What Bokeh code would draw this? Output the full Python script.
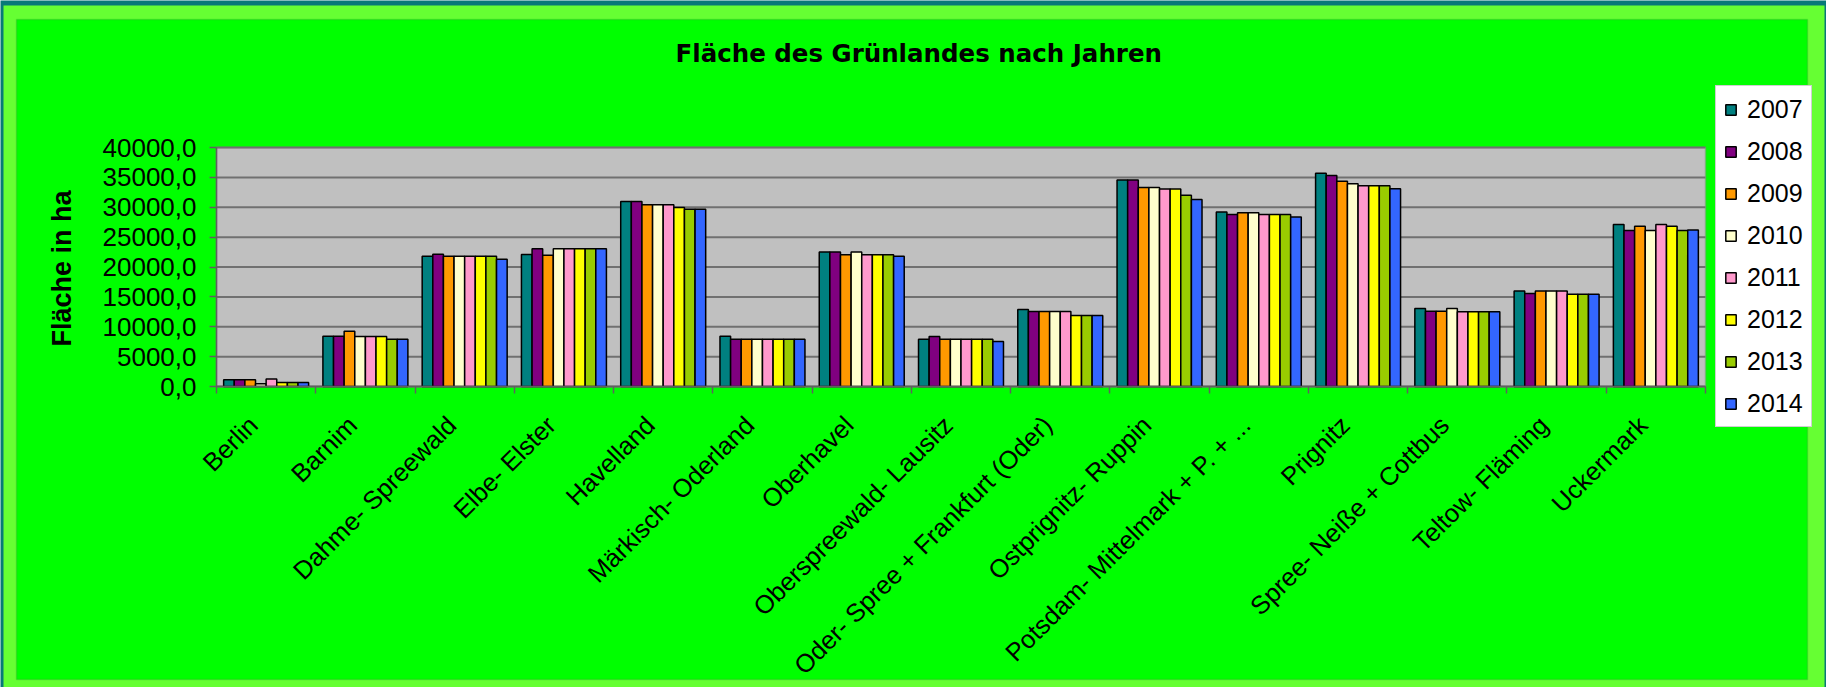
import math
import numpy as np
from bokeh.plotting import figure
from bokeh.models import (ColumnDataSource, Range1d, FixedTicker, Legend, LegendItem,
                          BoxAnnotation, Label)
from bokeh.embed import file_html
from bokeh.resources import INLINE

districts = ["Berlin", "Barnim", "Dahme- Spreewald", "Elbe- Elster", "Havelland",
             "Märkisch- Oderland", "Oberhavel", "Oberspreewald- Lausitz",
             "Oder- Spree + Frankfurt (Oder)", "Ostprignitz- Ruppin",
             "Potsdam- Mittelmark + P. + ...", "Prignitz", "Spree- Neiße + Cottbus",
             "Teltow- Fläming", "Uckermark"]
years = ["2007", "2008", "2009", "2010", "2011", "2012", "2013", "2014"]

v2007 = [1150, 8400, 21800, 22100, 30950, 8400, 22500, 7900, 12900, 34550, 29200, 35700, 13050, 16000, 27100]
v2008 = [1150, 8400, 22150, 23050, 30950, 7900, 22500, 8350, 12550, 34550, 28800, 35300, 12600, 15550, 26100]
v2009 = [1150, 9250, 21800, 21950, 30400, 7900, 22050, 7900, 12550, 33300, 29100, 34350, 12600, 16000, 26800]
v2010 = [450, 8350, 21800, 23050, 30400, 7900, 22500, 7900, 12550, 33300, 29100, 33950, 13050, 16000, 26100]
v2011 = [1250, 8350, 21800, 23050, 30400, 7900, 22050, 7900, 12550, 33050, 28800, 33600, 12500, 16000, 27100]
v2012 = [650, 8350, 21800, 23050, 29950, 7900, 22050, 7900, 11900, 33050, 28800, 33600, 12500, 15450, 26800]
v2013 = [650, 7900, 21800, 23050, 29650, 7900, 22050, 7900, 11900, 32000, 28800, 33600, 12500, 15450, 26100]
v2014 = [650, 7900, 21300, 23050, 29650, 7900, 21800, 7550, 11900, 31300, 28350, 33100, 12500, 15450, 26200]
series = [v2007, v2008, v2009, v2010, v2011, v2012, v2013, v2014]

colors = ["#008080", "#800080", "#ff9900", "#ffffcc", "#ff99cc", "#ffff00", "#99cc00", "#3366ff"]

y_ticks = [0, 5000, 10000, 15000, 20000, 25000, 30000, 35000, 40000]
y_tick_labels = ["0,0", "5000,0", "10000,0", "15000,0", "20000,0", "25000,0", "30000,0", "35000,0", "40000,0"]

title_text = "Fläche des Grünlandes nach Jahren"
y_title = "Fläche in ha"

FONT = "Liberation Sans"

# ---- layout in canvas pixels (the frame covers the whole canvas) ----
W, H = 1826, 687
PX_L, PX_R = 216, 1705     # left / right edge of the grey plot area
PX_T, PX_B = 147, 386      # top / bottom edge of the grey plot area

n = len(districts)
y_max = y_ticks[-1]
ux = (PX_R - PX_L) / n
uy = (PX_B - PX_T) / y_max
x_range = Range1d(-PX_L / ux, n + (W - PX_R) / ux)
y_range = Range1d(-(H - PX_B) / uy, y_max + PX_T / uy)

p = figure(width=W, height=H, output_backend="svg", toolbar_location=None,
           x_range=x_range, y_range=y_range, title_location=None,
           min_border_left=0, min_border_right=0, min_border_top=0, min_border_bottom=0,
           background_fill_color="#087878", border_fill_color="#087878")
p.min_border = 0
p.outline_line_color = None

# light green outer band
outer_band = BoxAnnotation(left=3, right=W - 2, bottom=-5, top=H - 5,
                           left_units="screen", right_units="screen",
                           top_units="screen", bottom_units="screen",
                           fill_color="#66ff33", fill_alpha=1, line_color=None, level="image")
p.add_layout(outer_band)

# bright green chart area with thin darker border
chart_area = BoxAnnotation(left=16, right=1807, bottom=H - 679, top=H - 19,
                           left_units="screen", right_units="screen",
                           top_units="screen", bottom_units="screen",
                           fill_color="#00ff00", fill_alpha=1,
                           line_color="#2e9e2e", line_width=1.5, level="image")
p.add_layout(chart_area)

# grey plot area
plot_area = BoxAnnotation(left=0, right=n, bottom=0, top=y_max,
                          fill_color="#c0c0c0", fill_alpha=1,
                          line_color="#808080", line_width=2, level="image")
p.add_layout(plot_area)

# horizontal grid lines inside the plot area only
p.segment(x0=[0] * len(y_ticks), x1=[n] * len(y_ticks), y0=y_ticks, y1=y_ticks,
          line_color="#707070", line_width=2, level="underlay")
p.xgrid.visible = False
p.ygrid.visible = False

bar_w = 0.107
centers = np.arange(n) + 0.5
renderers = []
for j, (yr, vals, col) in enumerate(zip(years, series, colors)):
    src = ColumnDataSource(dict(x=centers + (j - 3.5) * bar_w, top=vals))
    r = p.vbar(x="x", top="top", bottom=0, width=bar_w, source=src,
               fill_color=col, line_color="black", line_width=1.5)
    renderers.append(r)

# y axis
p.yaxis.fixed_location = 0
p.yaxis.bounds = (0, y_max)
p.yaxis.ticker = FixedTicker(ticks=y_ticks)
p.yaxis.major_label_overrides = dict(zip(y_ticks, y_tick_labels))
p.yaxis.major_label_text_font = FONT
p.yaxis.major_label_text_font_size = "26px"
p.yaxis.major_label_text_color = "black"
p.yaxis.major_tick_out = 7
p.yaxis.major_tick_in = 0
p.yaxis.minor_tick_line_color = None
p.yaxis.major_tick_line_color = "#606060"
p.yaxis.major_tick_line_width = 1.5
p.yaxis.axis_line_color = "#606060"
p.yaxis.axis_line_width = 1.5
p.yaxis.major_label_standoff = 13

# x axis: labels near the centres, tick marks at category boundaries
label_shift = 0.13
p.xaxis.fixed_location = 0
p.xaxis.bounds = (0, n)
p.xaxis.ticker = FixedTicker(ticks=list(centers - label_shift),
                             minor_ticks=list(range(n + 1)))
p.xaxis.major_label_overrides = {float(c - label_shift): d for c, d in zip(centers, districts)}
p.xaxis.major_tick_line_color = None
p.xaxis.major_tick_out = 0
p.xaxis.major_tick_in = 0
p.xaxis.minor_tick_line_color = "#606060"
p.xaxis.minor_tick_line_width = 1.5
p.xaxis.minor_tick_out = 7
p.xaxis.minor_tick_in = 0
p.xaxis.axis_line_color = "#606060"
p.xaxis.axis_line_width = 1.5
p.xaxis.major_label_orientation = math.pi / 4
p.xaxis.major_label_text_font = FONT
p.xaxis.major_label_text_font_size = "25.5px"
p.xaxis.major_label_text_color = "black"
p.xaxis.major_label_standoff = 27

# title and y-axis title as text labels (screen units from the bottom-left corner)
p.add_layout(Label(x=675, y=H - 53, x_units="screen", y_units="screen", text=title_text,
                   text_font="DejaVu Sans", text_font_size="24.5px", text_font_style="bold",
                   text_color="black", text_align="left", text_baseline="middle"))
p.add_layout(Label(x=61, y=H - 268, x_units="screen", y_units="screen", text=y_title,
                   angle=math.pi / 2, text_font=FONT, text_font_size="27px",
                   text_font_style="bold", text_color="black",
                   text_align="center", text_baseline="middle"))

# legend
lg = Legend(items=[LegendItem(label=yr, renderers=[r]) for yr, r in zip(years, renderers)],
            location=(1715, H - 427))
lg.background_fill_color = "white"
lg.background_fill_alpha = 1
lg.border_line_color = "#a0a0a0"
lg.border_line_width = 1
lg.label_text_font = FONT
lg.label_text_font_size = "25px"
lg.label_text_color = "black"
lg.glyph_width = 13
lg.glyph_height = 13
lg.label_height = 30
lg.label_standoff = 10
lg.spacing = 12
lg.padding = 8
lg.margin = 0
p.add_layout(lg)

open("out.html", "w").write(file_html(p, INLINE))
